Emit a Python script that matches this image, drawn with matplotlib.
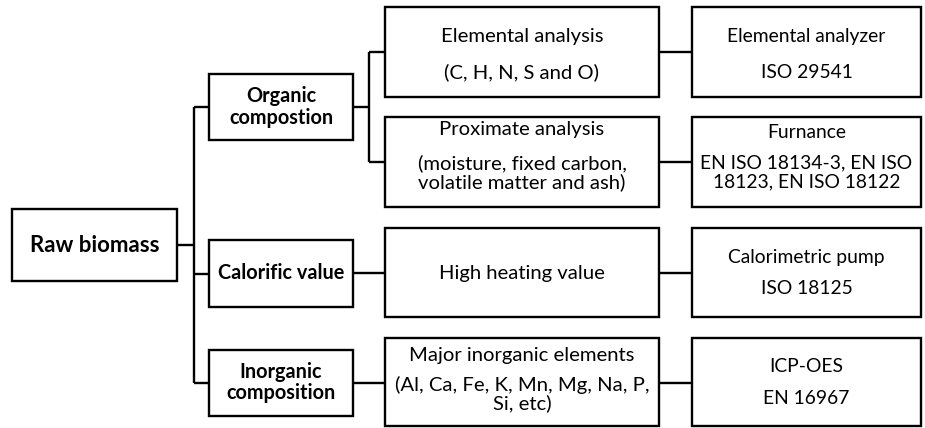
import matplotlib
matplotlib.use("Agg")
import matplotlib.pyplot as plt
from matplotlib.patches import Rectangle

plt.rcParams['font.family'] = ['Lato', 'DejaVu Sans']

# ---- content ----
root_label = ["Raw biomass"]
level1_labels = [["Organic", "compostion"], ["Calorific value"], ["Inorganic", "composition"]]
level2_labels = [
    ["Elemental analysis", "(C, H, N, S and O)"],
    ["Proximate analysis", "(moisture, fixed carbon,", "volatile matter and ash)"],
    ["High heating value"],
    ["Major inorganic elements", "(Al, Ca, Fe, K, Mn, Mg, Na, P,", "Si, etc)"],
]
level3_labels = [
    ["Elemental analyzer", "ISO 29541"],
    ["Furnance", "EN ISO 18134-3, EN ISO", "18123, EN ISO 18122"],
    ["Calorimetric pump", "ISO 18125"],
    ["ICP-OES", "EN 16967"],
]
level2_parent = [0, 0, 1, 2]

# ---- layout (pixels) ----
W, H = 925, 428
fig = plt.figure(figsize=(W / 100, H / 100), dpi=100)
ax = fig.add_axes([0, 0, 1, 1])
ax.set_xlim(0, W)
ax.set_ylim(H, 0)
ax.axis('off')

root_box = (12, 209, 177, 281)
l1_boxes = [(209, 74, 353, 140), (209, 240, 353, 307), (209, 350, 353, 416)]
l2_boxes = [(385, 7, 659, 97), (385, 117, 659, 207), (385, 228, 659, 317), (385, 338, 659, 426)]
l3_boxes = [(692, 7, 921, 97), (692, 117, 921, 207), (692, 228, 921, 317), (692, 338, 921, 426)]

root_ys = [245]
l1_ys = [[96, 118], [273], [372, 393]]
l2_ys = [[36, 72], [130, 163, 182], [273], [355, 385, 403]]
l3_ys = [[36, 72], [133, 163, 182], [257, 288], [367, 399]]

FS = 14.6
FS_COL3 = 13.9
FS_BOLD = 14.3
FS_ROOT = 16.0
lw_box = 1.7
lw_line = 1.7

def box(b):
    x0, y0, x1, y1 = b
    ax.add_patch(Rectangle((x0, y0), x1 - x0, y1 - y0, fill=False,
                           edgecolor='black', linewidth=lw_box, joinstyle='miter'))

def texts(b, lines, ys, bold=False, fs=FS):
    cx = (b[0] + b[2]) / 2
    for t, y in zip(lines, ys):
        ax.text(cx, y, t, ha='center', va='center', fontsize=fs,
                fontweight='bold' if bold else 'normal', color='black')

def line(xs, ys):
    ax.plot(xs, ys, color='black', linewidth=lw_line, solid_capstyle='butt')

box(root_box)
texts(root_box, root_label, root_ys, bold=True, fs=FS_ROOT)
for b, lab, ys in zip(l1_boxes, level1_labels, l1_ys):
    box(b)
    texts(b, lab, ys, bold=True, fs=FS_BOLD)
for b, lab, ys in zip(l2_boxes, level2_labels, l2_ys):
    box(b)
    texts(b, lab, ys)
for b, lab, ys in zip(l3_boxes, level3_labels, l3_ys):
    box(b)
    texts(b, lab, ys, fs=FS_COL3)

# connectors root -> level1
trunk_x = 194
root_cy = (root_box[1] + root_box[3]) / 2
line([root_box[2], trunk_x], [root_cy, root_cy])
l1_cy = [(b[1] + b[3]) / 2 for b in l1_boxes]
line([trunk_x, trunk_x], [l1_cy[0], l1_cy[-1]])
for b, cy in zip(l1_boxes, l1_cy):
    line([trunk_x, b[0]], [cy, cy])

# level1 -> level2
l2_cy = [52, 162, 273, 383]
branch_x = 369
line([l1_boxes[0][2], branch_x], [l1_cy[0], l1_cy[0]])
line([branch_x, branch_x], [l2_cy[0], l2_cy[1]])
for i in (0, 1):
    line([branch_x, l2_boxes[i][0]], [l2_cy[i], l2_cy[i]])
for i in (2, 3):
    p = level2_parent[i]
    line([l1_boxes[p][2], l2_boxes[i][0]], [l2_cy[i], l2_cy[i]])

# level2 -> level3
for i in range(4):
    line([l2_boxes[i][2], l3_boxes[i][0]], [l2_cy[i], l2_cy[i]])

fig.savefig("out.png", dpi=100, facecolor='white')
